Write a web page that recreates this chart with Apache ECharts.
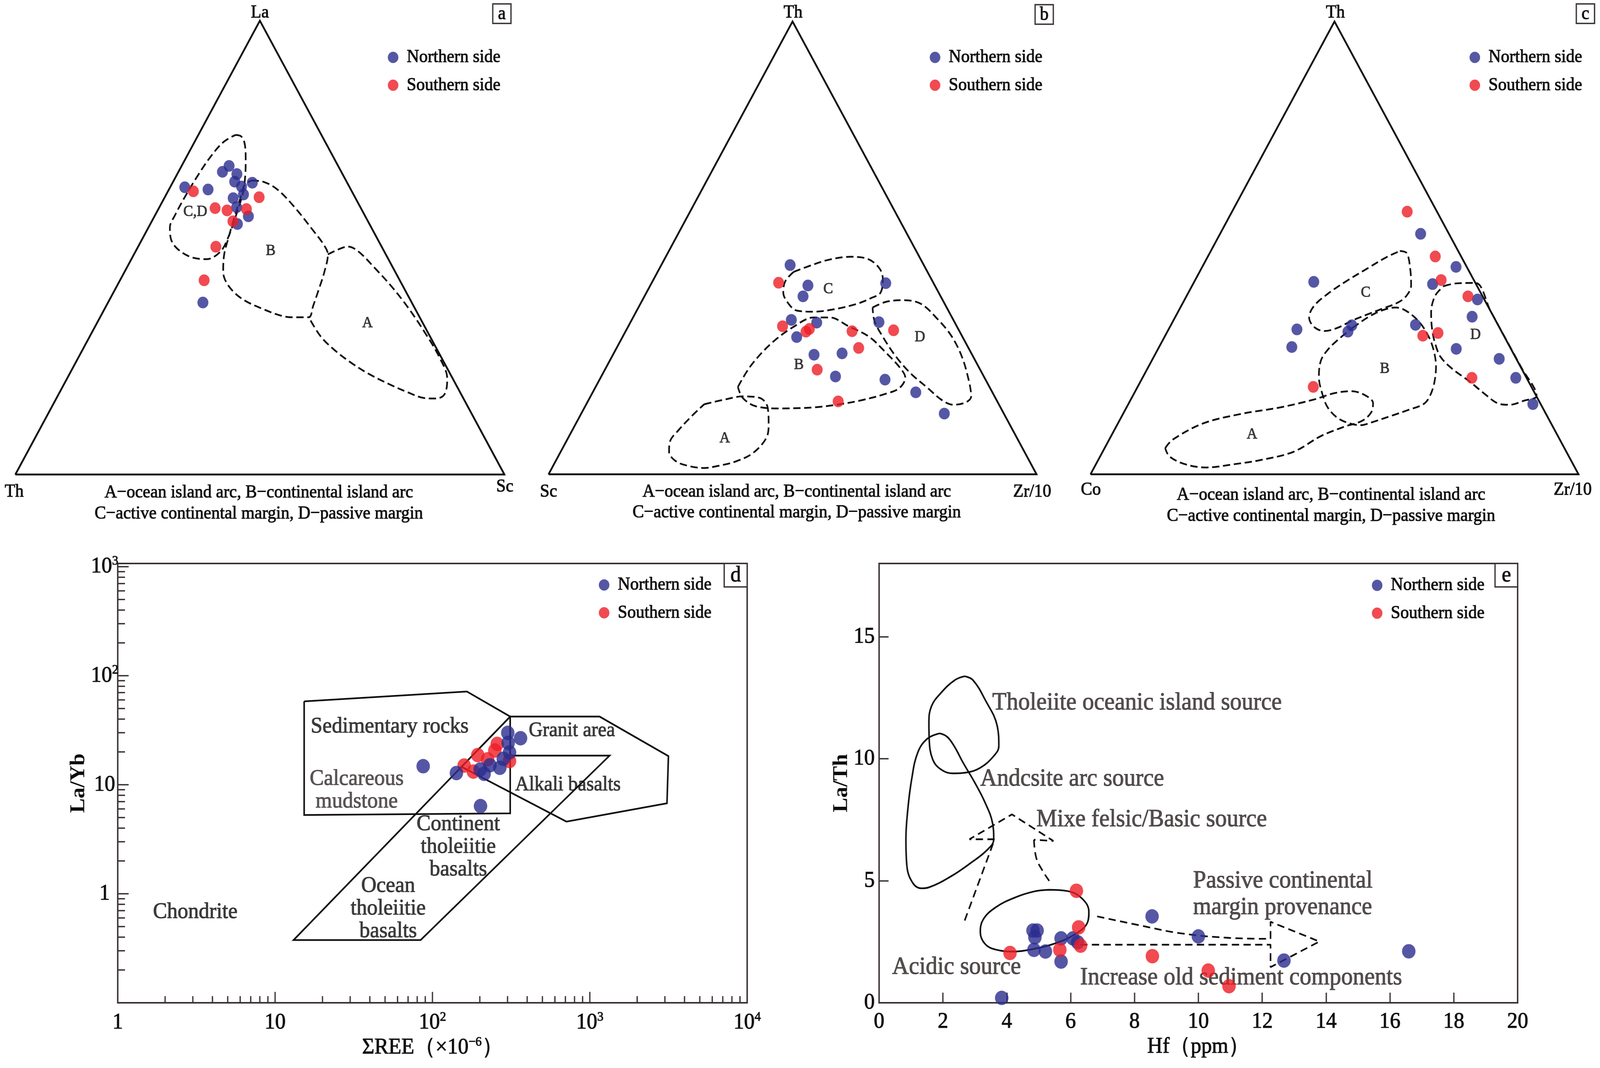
<!DOCTYPE html>
<html>
<head>
<meta charset="utf-8">
<title>Provenance discrimination diagrams</title>
<script src="https://cdn.jsdelivr.net/npm/echarts@6/dist/echarts.min.js"></script>
<style>
html,body{margin:0;padding:0;background:#ffffff;overflow:hidden;}
#wrap{width:4390px;height:2735px;transform-origin:0 0;}
#chart{width:4390px;height:2735px;}
</style>
</head>
<body>
<div id="wrap"><div id="chart"></div></div>
<script>
// ================= DATA =================
const seriesNames = ['Northern side', 'Southern side'];

// ---- (a) La–Th–Sc ternary, samples as [La, Th, Sc] (%)
const aVertexNames = ['La', 'Th', 'Sc'];
const aNorth = [[63.3,33.7,3.0],[62.8,29.2,8.0],[66.7,24.3,9.0],[68.0,22.3,9.7],[66.2,21.6,12.2],[64.6,22.9,12.6],[63.4,22.0,14.5],[64.3,19.4,16.3],[61.7,22.5,15.8],[60.9,25.0,14.1],[58.9,25.3,15.8],[56.9,23.9,19.2],[55.2,27.0,17.8],[37.9,42.7,19.4]];
const aSouth = [[62.4,32.4,5.2],[58.7,29.8,11.5],[58.2,27.6,14.2],[58.5,23.5,18.0],[61.1,19.6,19.3],[55.8,27.6,16.6],[50.2,33.9,15.9],[42.8,40.0,17.2]];
// field outlines in triangle plane units (base 0..100, height 0..86.6)
const aFieldCD = [[45.0,64.8],[46.2,64.5],[46.9,63.1],[47.1,60.1],[47.0,56.9],[46.5,53.6],[45.0,49.1],[43.5,45.2],[41.9,42.5],[39.1,41.1],[35.9,41.5],[33.1,43.1],[31.8,45.0],[31.6,47.2],[32.6,49.4],[34.5,52.7],[37.0,56.6],[39.8,60.5],[42.5,63.4],[45.0,64.8]];
const aFieldB = [[48.3,56.1],[50.9,55.8],[53.7,54.3],[57.2,50.9],[60.7,46.8],[63.1,43.8],[63.9,42.0],[63.2,38.7],[62.0,35.2],[60.9,32.2],[60.0,30.0],[56.8,30.0],[54.4,30.3],[50.6,31.6],[46.4,33.5],[43.6,36.0],[42.5,38.7],[42.7,42.0],[43.5,44.9],[44.6,48.5],[46.0,52.7],[46.9,55.3],[48.3,56.1]];
const aFieldA = [[63.9,42.0],[65.9,42.9],[68.0,43.5],[70.1,42.6],[73.5,39.4],[77.0,35.8],[80.5,31.6],[84.0,26.7],[86.8,22.2],[88.3,18.3],[87.8,15.4],[86.1,14.5],[83.6,14.6],[80.2,15.7],[76.3,17.3],[72.1,19.3],[68.7,21.3],[65.2,23.8],[62.4,26.4],[60.0,30.0]];
const aFieldNames = ['C,D', 'B', 'A'];
const aFieldLabelPos = [[36.8,50.1],[52.2,42.7],[72.0,28.9]];

// ---- (b) Th–Sc–Zr/10 ternary, samples as [Th, Sc, Zr/10] (%)
const bVertexNames = ['Th', 'Sc', 'Zr/10'];
const bNorth = [[46.2,27.4,26.4],[41.7,26.0,32.3],[39.3,28.2,32.5],[42.2,9.8,48.0],[34.1,33.2,32.7],[33.5,28.3,38.2],[30.3,34.0,35.7],[33.6,15.5,50.9],[26.4,32.4,41.2],[26.7,26.5,46.8],[21.6,30.4,48.0],[20.9,20.6,58.5],[18.1,15.7,66.2],[13.4,12.2,74.4]];
const bSouth = [[42.3,31.7,26.0],[32.7,35.7,31.6],[31.5,31.5,37.0],[32.1,30.5,37.4],[31.6,22.0,46.4],[27.9,22.5,49.6],[31.8,13.4,54.8],[23.1,33.4,43.5],[16.1,32.6,51.3]];
const bFieldC = [[50.2,38.7],[53.0,39.7],[57.3,41.0],[61.8,41.6],[65.4,41.2],[67.8,39.4],[68.5,37.3],[68.0,34.7],[66.1,33.7],[63.2,32.6],[58.7,31.6],[54.4,31.1],[50.9,31.3],[49.2,32.6],[48.1,34.8],[48.5,36.9],[50.2,38.7]];
const bFieldB = [[38.8,16.7],[41.4,20.7],[45.6,25.0],[50.2,28.2],[54.4,30.0],[57.6,30.0],[61.5,28.3],[65.7,26.3],[69.2,23.2],[72.0,20.4],[73.1,18.5],[71.9,16.5],[69.1,15.4],[64.3,14.2],[59.7,13.4],[54.4,12.8],[47.4,12.6],[42.5,13.0],[39.8,14.6],[38.8,16.7]];
const bFieldA = [[31.9,13.4],[36.1,14.3],[39.8,14.9],[43.3,14.6],[44.9,12.8],[45.1,9.5],[44.6,6.9],[41.8,4.0],[38.2,2.4],[34.7,1.6],[31.9,1.2],[28.7,1.6],[26.1,2.5],[24.7,4.3],[24.9,6.3],[26.6,8.4],[29.2,11.0],[31.9,13.4]];
const bFieldD = [[66.4,31.9],[69.2,33.0],[72.7,33.3],[76.3,32.6],[79.8,29.6],[82.6,26.4],[84.7,22.5],[86.1,18.0],[86.6,14.9],[85.6,13.8],[83.0,13.3],[80.6,14.2],[77.7,16.5],[74.2,19.3],[71.2,22.5],[68.5,26.3],[66.8,29.3],[66.4,31.9]];
const bFieldNames = ['C', 'D', 'B', 'A'];
const bFieldLabelPos = [[57.3,35.4],[76.1,26.2],[51.3,20.9],[36.1,6.9]];

// ---- (c) Th–Co–Zr/10 ternary, samples as [Th, Co, Zr/10] (%)
const cVertexNames = ['Th', 'Co', 'Zr/10'];
const cNorth = [[53.1,5.8,41.1],[45.8,2.2,52.0],[42.0,8.9,49.1],[38.6,1.4,60.0],[34.8,4.4,60.8],[42.5,33.0,24.5],[32.0,41.7,26.3],[28.1,44.7,27.2],[32.9,30.0,37.1],[31.5,31.5,37.0],[33.0,16.9,50.1],[27.7,11.2,61.1],[25.5,3.5,71.0],[21.3,2.2,76.5],[15.5,1.6,82.9]];
const cSouth = [[58.0,6.1,35.9],[48.1,5.3,46.6],[42.9,6.7,50.4],[39.3,3.0,57.7],[30.6,16.6,52.8],[31.2,13.2,55.6],[21.3,11.2,67.5],[19.3,44.7,36.0]];
const cFieldC = [[63.4,42.7],[64.8,42.3],[65.5,39.4],[65.7,36.1],[64.8,34.2],[63.1,32.9],[59.6,31.6],[56.8,30.6],[53.4,29.3],[50.6,28.0],[47.9,27.4],[45.8,28.2],[44.8,30.0],[45.8,32.2],[48.6,34.5],[52.7,37.1],[56.8,39.4],[60.6,41.5],[63.4,42.7]];
const cFieldB = [[53.7,28.0],[56.8,30.0],[59.6,31.3],[62.5,31.9],[64.6,31.3],[67.2,29.3],[69.1,26.7],[70.3,23.8],[70.8,20.6],[70.4,17.3],[69.4,14.7],[68.2,13.4],[65.1,12.3],[61.7,11.2],[57.5,9.9],[55.5,9.4],[53.2,9.7],[50.6,10.8],[48.6,12.8],[47.5,15.4],[46.8,18.6],[47.2,21.7],[48.6,23.8],[50.8,25.8],[53.7,28.0]];
const cFieldA = [[15.3,5.0],[16.8,6.6],[23.0,9.7],[30.6,11.5],[38.9,12.8],[45.8,14.3],[49.9,15.5],[53.4,15.9],[56.1,15.2],[57.9,13.6],[57.5,11.8],[55.6,10.2],[52.0,9.1],[47.2,7.3],[41.6,4.3],[34.7,2.7],[29.2,1.9],[23.7,1.3],[19.5,1.9],[16.2,3.4],[15.3,5.0]];
const cFieldD = [[72.4,36.0],[74.8,36.5],[78.9,36.6],[82.0,31.2],[85.15,25.8],[88.3,20.4],[91.4,15.0],[88.9,14.1],[85.8,13.3],[83.4,13.6],[81.0,15.2],[77.6,17.8],[74.1,20.2],[71.7,22.5],[70.6,25.1],[70.0,27.7],[69.8,30.9],[70.6,34.1],[72.4,36.0]];
const cFieldNames = ['C', 'B', 'A', 'D'];
const cFieldLabelPos = [[56.4,34.7],[60.3,20.2],[33.1,7.6],[78.9,26.7]];

const ternaryCaption = ['A\u2212ocean island arc, B\u2212continental island arc', 'C\u2212active continental margin, D\u2212passive margin'];

// ---- (d) La/Yb vs ΣREE (log–log)
const dNorth = [[87.3,14.8],[142,12.8],[202,6.37],[301,29.9],[363,26.7],[303,24.2],[309,19.8],[282,17.3],[268,14.3],[232,15.1],[201,13.8],[213,12.6]];
const dSouth = [[159,15.0],[182,13.2],[194,18.7],[224,17.1],[258,23.7],[309,16.5],[249,20.6]];
const dSedimentary = [[15.3,58.2],[165.5,71.6],[312,42.2],[312,5.46],[15.3,5.28],[15.3,58.2]];
const dGranite = [[312,42.2],[1153,42.2],[3160,18.3],[3093,6.76],[710,4.59],[153,14.6],[312,42.2]];
const dTholeiite = [[312,42.2],[13.1,0.376],[84.1,0.376],[1336,18.5],[312,18.5],[312,42.2]];
const dXMajorTicks = [1, 10, 100, 1000, 10000];
const dYMajorTicks = [0.1, 1, 10, 100, 1000];
const dMinorSteps = [2, 3, 4, 5, 6, 7, 8, 9];
const dTexts = [
  {name: 'Sedimentary rocks', value: [16.8, 34.2], align: 'left'},
  {name: 'Calcareous\nmudstone', value: [33.0, 8.87], align: 'center', dim: true},
  {name: 'Granit area', value: [408, 31.4], align: 'left', small: true},
  {name: 'Alkali basalts', value: [334, 10.0], align: 'left', small: true},
  {name: 'Continent\ntholeiitie\nbasalts', value: [146, 2.69], align: 'center'},
  {name: 'Ocean\ntholeiitie\nbasalts', value: [52.3, 0.73], align: 'center'},
  {name: 'Chondrite', value: [1.67, 0.68], align: 'left'}
];

// ---- (e) La/Th vs Hf
const eNorth = [[3.84,0.2],[4.82,2.96],[4.95,2.96],[4.88,2.68],[4.85,2.17],[5.21,2.10],[5.70,2.64],[5.70,1.69],[6.07,2.64],[6.22,2.48],[8.55,3.54],[10.0,2.72],[12.68,1.73],[16.59,2.11]];
const eSouth = [[6.18,4.59],[6.25,3.09],[6.31,2.34],[5.66,2.17],[4.10,2.04],[8.56,1.91],[10.31,1.32],[10.96,0.68]];
const eTholeiite = [[2.68,13.38],[2.94,13.22],[3.32,12.42],[3.70,11.34],[3.75,10.52],[3.59,10.11],[3.17,9.63],[2.71,9.43],[2.32,9.40],[1.94,9.56],[1.68,9.97],[1.57,10.79],[1.56,11.47],[1.64,12.15],[1.94,12.70],[2.37,13.22],[2.68,13.38]];
const eAndesite = [[1.90,11.04],[2.13,10.90],[2.35,10.52],[2.63,9.84],[3.01,8.99],[3.32,8.20],[3.55,7.38],[3.59,6.70],[3.39,6.27],[2.86,5.72],[2.25,5.18],[1.56,4.73],[1.33,4.69],[1.06,4.90],[0.87,5.61],[0.84,6.70],[0.90,7.93],[1.02,9.16],[1.21,10.25],[1.51,10.82],[1.90,11.04]];
const eAcidic = [[5.31,4.63],[5.89,4.58],[6.35,4.28],[6.57,3.73],[6.53,3.30],[6.10,2.78],[5.46,2.41],[4.85,2.21],[4.24,2.10],[3.65,2.18],[3.32,2.41],[3.17,2.89],[3.26,3.41],[3.65,3.91],[4.27,4.32],[4.85,4.56],[5.31,4.63]];
const eArrowUpShaft = [[2.68,3.37],[3.62,6.70]];
const eArrowUpHead = [[3.62,6.70],[2.83,6.70],[4.16,7.72],[5.46,6.63],[4.85,6.68]];
const eArrowUpTail = [[4.85,6.68],[4.92,5.95],[5.12,5.41],[5.38,4.90]];
const eArrowRightCurve = [[6.83,3.54],[8.21,3.16],[9.43,2.85],[10.96,2.66],[12.26,2.62]];
const eArrowRightHead = [[12.26,2.62],[12.26,3.32],[13.79,2.51],[12.26,1.46],[12.26,2.38],[6.30,2.38]];
const eTexts = [
  {name: 'Tholeiite oceanic island source', value: [3.54, 12.29]},
  {name: 'Andcsite arc source', value: [3.16, 9.17]},
  {name: 'Mixe felsic/Basic source', value: [4.92, 7.50]},
  {name: 'Passive continental', value: [9.83, 4.99]},
  {name: 'margin provenance', value: [9.83, 3.90]},
  {name: 'Acidic source', value: [0.40, 1.46]},
  {name: 'Increase old sediment components', value: [6.29, 1.02]}
];

// ================= STYLE / LAYOUT =================
const FONT = "'Liberation Serif','Times New Roman',serif";
const INK = '#0f0c0c';
const FRAME = '#3a3232';
const GREYTXT = '#2a2323';
const BLUE = '#2b2d8e';
const RED = '#ee1d25';
const TB = 1.2;            // slight text emboldening stroke
const H = 86.6025;

function tern(p) {
  const s = p[0] + p[1] + p[2];
  const t = p[0] / s, r = p[2] / s;
  return [(r + t / 2) * 100, t * H];
}
function bold(style, color) {
  return Object.assign(style, {textBorderColor: color || style.color || INK, textBorderWidth: TB});
}

const triPanels = [
  {key: 'a', left: 42, top: 53, w: 1342, vNames: aVertexNames, north: aNorth, south: aSouth,
   fields: [aFieldCD, aFieldB, aFieldA], fNames: aFieldNames, fPos: aFieldLabelPos,
   vLabel: [[713, 33], [39, 1260], [1385, 1247]], cap: [710, 1262, 1316], box: [1352, 10], legend: [1059, 118]},
  {key: 'b', left: 1505, top: 55, w: 1339, vNames: bVertexNames, north: bNorth, south: bSouth,
   fields: [bFieldC, bFieldB, bFieldA, bFieldD], fNames: bFieldNames, fPos: bFieldLabelPos,
   vLabel: [[2176, 33], [1505, 1260], [2832, 1260]], cap: [2186, 1260, 1313], box: [2840, 12], legend: [2546, 118]},
  {key: 'c', left: 2992, top: 55, w: 1339, vNames: cVertexNames, north: cNorth, south: cSouth,
   fields: [cFieldC, cFieldB, cFieldA, cFieldD], fNames: cFieldNames, fPos: cFieldLabelPos,
   vLabel: [[3664, 33], [2993, 1255], [4315, 1255]], cap: [3652, 1268, 1322], box: [4325, 10], legend: [4027, 118]}
];

const grids = [], xAxes = [], yAxes = [], series = [], legends = [], graphics = [];

function legendAt(left, top) {
  return {
    data: seriesNames, orient: 'vertical', left: left, top: top,
    itemWidth: 29, itemHeight: 29, itemGap: 23, icon: 'circle', selectedMode: false,
    textStyle: bold({fontFamily: FONT, fontSize: 47, color: INK, padding: [0, 0, 0, 18]})
  };
}
function textEl(x, y, text, size, opts) {
  opts = opts || {};
  const c = opts.color || INK;
  return {
    type: 'text', x: x, y: y, z: 100, silent: true,
    style: {
      text: text, fill: c, stroke: c, lineWidth: TB,
      font: 'normal ' + size + 'px ' + FONT,
      textAlign: opts.align || 'center', textVerticalAlign: 'middle',
      align: opts.align || 'center', verticalAlign: 'middle'
    }
  };
}
function boxEl(x, y, w, h, letter, size) {
  graphics.push({type: 'rect', z: 100, silent: true, shape: {x: x, y: y, width: w, height: h},
    style: {fill: '#ffffff', stroke: FRAME, lineWidth: 3.5}});
  graphics.push(textEl(x + w / 2, y + h / 2 + 1, letter, size));
}

// ---------- ternary panels ----------
triPanels.forEach(function (P, i) {
  grids.push({left: P.left, top: P.top, width: P.w, height: P.w * 0.866025});
  xAxes.push({gridIndex: i, type: 'value', min: 0, max: 100, show: false});
  yAxes.push({gridIndex: i, type: 'value', min: 0, max: H, show: false});
  const base = {xAxisIndex: i, yAxisIndex: i, silent: true, animation: false};
  series.push(Object.assign({type: 'line', data: [[0, 0], [100, 0], [50, H], [0, 0]], symbol: 'none', clip: false,
    lineStyle: {color: INK, width: 4.8, join: 'miter'}, z: 2}, base));
  P.fields.forEach(function (f) {
    series.push(Object.assign({type: 'line', data: f, smooth: 0.35, symbol: 'none', clip: false,
      lineStyle: {color: INK, width: 4.5, type: [20, 10]}, z: 2}, base));
  });
  series.push(Object.assign({type: 'scatter', symbolSize: 1, itemStyle: {color: 'rgba(0,0,0,0)'}, clip: false,
    data: P.fNames.map(function (n, k) { return {name: n, value: P.fPos[k]}; }),
    label: bold({show: true, position: 'inside', formatter: '{b}', fontFamily: FONT, fontSize: 40, color: INK}), z: 3}, base));
  series.push({name: seriesNames[0], type: 'scatter', xAxisIndex: i, yAxisIndex: i, data: P.north.map(tern),
    symbolSize: 30, itemStyle: {color: BLUE}, clip: false, z: 5, animation: false});
  series.push({name: seriesNames[1], type: 'scatter', xAxisIndex: i, yAxisIndex: i, data: P.south.map(tern),
    symbolSize: 30, itemStyle: {color: RED}, clip: false, z: 5, animation: false});
  legends.push(legendAt(P.legend[0], P.legend[1]));
  P.vNames.forEach(function (n, k) { graphics.push(textEl(P.vLabel[k][0], P.vLabel[k][1], n, 47)); });
  graphics.push(textEl(P.cap[0], P.cap[1], ternaryCaption[0], 47));
  graphics.push(textEl(P.cap[0], P.cap[2], ternaryCaption[1], 47));
  boxEl(P.box[0], P.box[1], 50, 50, P.key, 48);
});

// ---------- panel d ----------
const D_X = [1, 10000], D_Y = [0.1, 1070];
function logLabel(v) {
  const e = Math.log10(v), r = Math.round(e);
  if (Math.abs(e - r) > 1e-6 || r < 0) return '';
  if (r === 0) return '{m|1}';
  if (r === 1) return '{m|10}';
  return '{m|10}{s|' + r + '}';
}
const supRich = {
  m: bold({fontFamily: FONT, fontSize: 58, lineHeight: 62, color: INK}),
  s: bold({fontFamily: FONT, fontSize: 34, lineHeight: 34, verticalAlign: 'top', color: INK})
};
grids.push({left: 323, top: 1443, width: 1727, height: 1125, show: true, borderColor: FRAME, borderWidth: 4, backgroundColor: 'rgba(0,0,0,0)'});
xAxes.push({gridIndex: 3, type: 'log', logBase: 10, min: D_X[0], max: D_X[1],
  axisLine: {onZero: false, lineStyle: {color: FRAME, width: 4}}, axisTick: {show: false}, splitLine: {show: false},
  axisLabel: {formatter: logLabel, margin: 20, rich: supRich, fontFamily: FONT, fontSize: 58, color: INK},
  name: 'ΣREE（×10{s|\u22126}）', nameLocation: 'middle', nameGap: 84,
  nameTextStyle: bold({fontFamily: FONT, fontSize: 58, lineHeight: 62, color: INK, rich: {s: supRich.s}})});
yAxes.push({gridIndex: 3, type: 'log', logBase: 10, min: D_Y[0], max: D_Y[1],
  axisLine: {onZero: false, lineStyle: {color: FRAME, width: 4}}, axisTick: {show: false}, splitLine: {show: false},
  axisLabel: {formatter: logLabel, margin: 36, align: 'center', rich: supRich, fontFamily: FONT, fontSize: 58, color: INK},
  name: 'La/Yb', nameLocation: 'middle', nameGap: 70, nameRotate: 90,
  nameTextStyle: {fontFamily: FONT, fontSize: 56, fontWeight: 'bold', color: INK}});

function minorOf(majors, lim) {
  const out = [];
  majors.forEach(function (m) { dMinorSteps.forEach(function (s) { const v = m * s; if (v < lim) out.push(v); }); });
  return out;
}
function tickSeries(values, dir, len) {
  return {type: 'custom', xAxisIndex: 3, yAxisIndex: 3, silent: true, animation: false, z: 3, clip: false,
    data: values.map(function (v) { return dir === 'x' ? [v, D_Y[0]] : [D_X[0], v]; }),
    renderItem: function (params, api) {
      const pt = api.coord([api.value(0), api.value(1)]);
      const shape = dir === 'x' ? {x1: pt[0], y1: pt[1], x2: pt[0], y2: pt[1] - len}
                                : {x1: pt[0], y1: pt[1], x2: pt[0] + len, y2: pt[1]};
      return {type: 'line', shape: shape, style: {stroke: FRAME, lineWidth: 3.5}};
    }};
}
series.push(tickSeries(dXMajorTicks, 'x', 28));
series.push(tickSeries(minorOf(dXMajorTicks, D_X[1]), 'x', 17));
series.push(tickSeries(dYMajorTicks, 'y', 30));
series.push(tickSeries(minorOf(dYMajorTicks, D_Y[1]), 'y', 20));

[dSedimentary, dGranite, dTholeiite].forEach(function (poly) {
  series.push({type: 'line', xAxisIndex: 3, yAxisIndex: 3, data: poly, symbol: 'none', clip: false, silent: true, animation: false,
    lineStyle: {color: INK, width: 4.3, join: 'miter'}, z: 2});
});
series.push({type: 'scatter', xAxisIndex: 3, yAxisIndex: 3, symbolSize: 1, itemStyle: {color: 'rgba(0,0,0,0)'}, silent: true, animation: false, z: 3,
  data: dTexts.map(function (t) {
    const c = t.dim ? '#352d2d' : INK;
    return {name: t.name, value: t.value, label: {
      position: t.align === 'left' ? 'right' : 'inside', distance: 0, align: t.align,
      fontSize: t.small ? 53 : 58, lineHeight: 58, color: c, textBorderColor: c, textBorderWidth: TB}};
  }),
  label: {show: true, formatter: '{b}', fontFamily: FONT, fontSize: 58, color: INK}});
series.push({name: seriesNames[0], type: 'scatter', xAxisIndex: 3, yAxisIndex: 3, data: dNorth, symbolSize: 37, itemStyle: {color: BLUE}, clip: false, z: 5, animation: false});
series.push({name: seriesNames[1], type: 'scatter', xAxisIndex: 3, yAxisIndex: 3, data: dSouth, symbolSize: 37, itemStyle: {color: RED}, clip: false, z: 4, animation: false});
legends.push(legendAt(1638, 1469));
boxEl(1987, 1443, 63, 60, 'd', 58);

// ---------- panel e ----------
grids.push({left: 2412, top: 1443, width: 1752, height: 1125, show: true, borderColor: FRAME, borderWidth: 4, backgroundColor: 'rgba(0,0,0,0)'});
xAxes.push({gridIndex: 4, type: 'value', min: 0, max: 20, interval: 2,
  axisLine: {onZero: false, lineStyle: {color: FRAME, width: 4}},
  axisTick: {inside: true, length: 26, lineStyle: {color: FRAME, width: 3.5}}, splitLine: {show: false},
  axisLabel: bold({margin: 20, fontFamily: FONT, fontSize: 58, color: INK}),
  name: 'Hf（ppm）', nameLocation: 'middle', nameGap: 84,
  nameTextStyle: bold({fontFamily: FONT, fontSize: 58, color: INK})});
yAxes.push({gridIndex: 4, type: 'value', min: 0, max: 18, interval: 5,
  axisLine: {onZero: false, lineStyle: {color: FRAME, width: 4}},
  axisTick: {inside: true, length: 26, lineStyle: {color: FRAME, width: 3.5}}, splitLine: {show: false},
  axisLabel: bold({margin: 12, showMaxLabel: false, fontFamily: FONT, fontSize: 58, color: INK}),
  name: 'La/Th', nameLocation: 'middle', nameGap: 68, nameRotate: 90,
  nameTextStyle: {fontFamily: FONT, fontSize: 56, fontWeight: 'bold', color: INK}});

[eTholeiite, eAndesite, eAcidic].forEach(function (loop) {
  series.push({type: 'line', xAxisIndex: 4, yAxisIndex: 4, data: loop, smooth: 0.4, symbol: 'none', clip: false, silent: true, animation: false,
    lineStyle: {color: INK, width: 4.3}, z: 2});
});
[[eArrowUpShaft, 0], [eArrowUpHead, 0], [eArrowUpTail, 0.4], [eArrowRightCurve, 0.4], [eArrowRightHead, 0]].forEach(function (a) {
  series.push({type: 'line', xAxisIndex: 4, yAxisIndex: 4, data: a[0], smooth: a[1], symbol: 'none', clip: false, silent: true, animation: false,
    lineStyle: {color: INK, width: 4.3, type: [20, 12]}, z: 2});
});
series.push({type: 'scatter', xAxisIndex: 4, yAxisIndex: 4, symbolSize: 1, itemStyle: {color: 'rgba(0,0,0,0)'}, silent: true, animation: false, z: 3,
  data: eTexts,
  label: bold({show: true, position: 'right', distance: 0, formatter: '{b}', fontFamily: FONT, fontSize: 64, color: GREYTXT})});
series.push({name: seriesNames[0], type: 'scatter', xAxisIndex: 4, yAxisIndex: 4, data: eNorth, symbolSize: 37, itemStyle: {color: BLUE}, clip: false, z: 5, animation: false});
series.push({name: seriesNames[1], type: 'scatter', xAxisIndex: 4, yAxisIndex: 4, data: eSouth, symbolSize: 37, itemStyle: {color: RED}, clip: false, z: 5, animation: false});
legends.push(legendAt(3759, 1470));
boxEl(4102, 1443, 62, 60, 'e', 58);

// ================= RENDER =================
// fit the 4390×2735 design into the actual CSS viewport
(function fit() {
  const vw = window.innerWidth || document.documentElement.clientWidth || 4390;
  const vh = window.innerHeight || document.documentElement.clientHeight || 2735;
  const sx = vw / 4390, sy = vh / 2735;
  if (sx > 0 && sy > 0 && (Math.abs(sx - 1) > 0.002 || Math.abs(sy - 1) > 0.002)) {
    document.getElementById('wrap').style.transform = 'scale(' + sx + ',' + sy + ')';
  }
})();
const chart = echarts.init(document.getElementById('chart'), null, {renderer: 'canvas'});
chart.setOption({
  backgroundColor: '#ffffff',
  animation: false,
  textStyle: {fontFamily: FONT},
  grid: grids, xAxis: xAxes, yAxis: yAxes,
  legend: legends,
  series: series,
  graphic: graphics
});
</script>
</body>
</html>
